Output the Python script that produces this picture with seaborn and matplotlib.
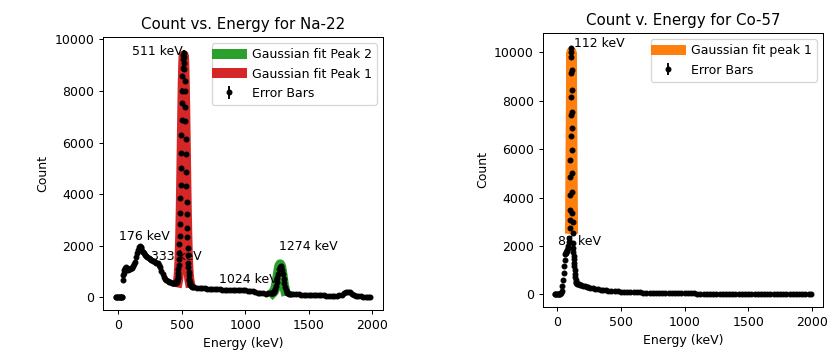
import matplotlib
matplotlib.use("Agg")
import matplotlib.pyplot as plt
import numpy as np
import seaborn as sns

# ---- Na-22 spectrum ----
na_energy = [
    -20, -14, -8, -2, 4, 10, 16, 22, 28, 33,
    36, 38, 42, 46, 52, 58, 64, 70, 78, 86, 94, 102, 110, 118, 126, 134, 142, 150,
    158, 164, 170, 176, 182, 190, 198, 206, 214, 222, 230, 240, 250, 260, 270, 280,
    290, 300, 310, 320, 330, 340, 350, 360, 370, 380, 390, 400, 410, 420, 430, 440,
    450, 456, 460, 464,
    466, 468, 470, 472, 474, 476, 478, 480, 482, 484, 486, 488, 490, 492, 494, 496,
    498, 500, 502, 504, 506, 508, 510, 512, 514, 516, 518, 520, 522, 524, 526, 528,
    530, 532, 534, 536, 538, 540, 542, 544, 546, 548, 550, 552, 554, 556, 558, 560,
    562, 564, 566, 568, 570,
    580, 590, 600, 620, 640, 660, 680, 700, 720, 740, 760, 780, 800, 820, 840, 860,
    880, 900, 920, 940, 960, 980, 1000, 1020, 1040, 1060, 1080, 1100, 1120, 1140,
    1160, 1180, 1200,
    1206, 1212, 1218, 1224, 1230, 1236, 1242, 1248, 1254, 1260, 1266, 1272, 1278,
    1284, 1290, 1296, 1302, 1308, 1314, 1320, 1326, 1332, 1338, 1344, 1350,
    1360, 1380, 1400, 1420, 1440, 1460, 1480, 1500, 1520, 1540, 1560, 1580, 1600,
    1620, 1640, 1660, 1680, 1700, 1720, 1740, 1760, 1780, 1795, 1810, 1825, 1840,
    1855, 1870, 1890, 1910, 1930, 1950, 1970, 1985,
]
na_count = [
    0, 0, 0, 0, 0, 0, 0, 0, 0, 0,
    680, 880, 950, 1050, 1120, 1080, 1160, 1100, 1050, 1080, 1100, 1120, 1150, 1200,
    1300, 1380, 1550, 1700, 1850, 1940, 1980, 1960, 1900, 1800, 1740, 1700, 1640,
    1600, 1560, 1520, 1480, 1440, 1410, 1390, 1380, 1350, 1320, 1260, 1160, 1020,
    900, 800, 720, 670, 630, 600, 580, 560, 550, 545, 545, 560, 600, 640,
    690, 750, 830, 950, 1090, 1240, 1490, 1720, 2060, 2390, 2850, 3270, 3860, 4370,
    5030, 5600, 6300, 6860, 7530, 8010, 8560, 8900, 9250, 9390, 9480, 9330, 9100,
    8860, 8400, 7980, 7360, 6830, 6130, 5560, 4870, 4320, 3700, 3230, 2700, 2330,
    1920, 1650, 1350, 1170, 970, 850, 720, 660, 580, 530, 500, 470, 450,
    420, 405, 392, 378, 362, 352, 345, 336, 330, 324, 318, 311, 305, 301, 297, 294,
    291, 288, 285, 282, 279, 275, 270, 262, 250, 228, 200, 176, 160, 150, 146, 150,
    165,
    155, 162, 176, 203, 250, 325, 433, 576, 746, 923, 1081, 1191, 1220, 1166, 1056,
    898, 721, 551, 408, 300, 225, 178, 151, 137, 130,
    126, 121, 116, 112, 109, 105, 100, 96, 92, 88, 84, 80, 76, 72, 68, 65, 62, 62,
    66, 80, 110, 165, 210, 225, 195, 145, 100, 68, 46, 36, 29, 24, 20, 18,
]

# Gaussian fits
na_fit1_energy = [468, 472, 476, 480, 484, 488, 492, 496, 500, 504, 508, 512, 516,
                  520, 524, 528, 532, 536, 540, 544, 548, 552, 556, 560, 564]
na_fit1_count = [579, 683, 871, 1188, 1684, 2405, 3370, 4554, 5878, 7198, 8334, 9106,
                 9380, 9106, 8334, 7198, 5878, 4554, 3370, 2405, 1684, 1188, 871, 683, 579]
na_fit2_energy = [1215, 1225, 1235, 1245, 1255, 1262, 1268, 1275, 1282, 1288, 1295,
                  1305, 1315]
na_fit2_count = [170, 220, 330, 540, 830, 1060, 1210, 1280, 1210, 1060, 830, 470, 260]

# ---- Co-57 spectrum ----
co_energy = [
    -20, -14, -8, -2, 4, 10, 16, 22, 28, 34, 40, 46, 52, 56, 60, 64, 68, 72, 76, 80,
    84, 88, 92, 96,
    99, 100, 101, 102, 103, 104, 105, 106, 107, 108, 109, 110, 111, 112, 113, 114,
    115, 116, 117, 118, 119, 120, 121,
    123, 125, 127, 129, 131, 133, 135, 137, 139, 141, 144, 147, 151, 155,
    160, 170, 180, 190, 200, 215, 230, 245, 260, 280, 300, 320, 340, 360, 380, 400,
    425, 450, 475, 500, 525, 550, 575, 600, 625, 650, 675, 700, 725, 750, 775, 800,
    825, 850, 875, 900, 925, 950, 975, 1000,
    1025, 1050, 1075, 1100, 1125, 1150, 1175, 1200, 1225, 1250, 1275, 1300, 1325,
    1350, 1375, 1400, 1425, 1450, 1475, 1500, 1525, 1550, 1575, 1600, 1625, 1650,
    1675, 1700, 1725, 1750, 1775, 1800, 1825, 1850, 1875, 1900, 1925, 1950, 1975, 1990,
]
co_count = [
    0, 0, 0, 0, 0, 0, 0, 0, 40, 150, 350, 600, 900, 1150, 1400, 1650, 1750, 1700,
    1780, 1850, 1900, 2000, 2150, 2310,
    2730, 3070, 3480, 4100, 4860, 5550, 6540, 7410, 8165, 9130, 9820, 10165, 10025,
    9270, 8440, 7545, 6860, 5960, 5000, 4240, 3370, 3000, 2520,
    2100, 1900, 1750, 1600, 1450, 1300, 1150, 1000, 850, 700, 580, 500, 460, 440,
    430, 410, 390, 370, 352, 330, 310, 290, 270, 250, 230, 210, 192, 176, 162, 150,
    138, 126, 116, 108, 101, 95, 89, 84, 79, 75, 70, 66, 62, 58, 55, 52,
    49, 47, 45, 43, 41, 39, 37, 35,
    34, 33, 33, 32, 31, 31, 30, 29, 29, 28, 27, 27, 26, 26, 25, 24, 24, 23, 23, 22,
    21, 21, 20, 20, 19, 19, 18, 18, 17, 17, 16, 16, 15, 15, 14, 14, 13, 13, 12, 12,
]
co_fit_energy = [100, 102, 104, 106, 108, 110, 112, 114, 116, 118, 120, 122, 124]
co_fit_count = [2710, 4040, 5600, 7230, 8670, 9670, 10025, 9670, 8670, 7230, 5600,
                4040, 2710]

# peak labels: (text, x, y)
na_labels = [("511 keV", 105, 9375), ("176 keV", 8, 2240), ("333 keV", 255, 1467),
             ("1024 keV", 795, 540), ("1274 keV", 1268, 1826)]
co_labels = [("112 keV", 128, 10220), ("85 keV", 5, 2037)]

fig = plt.figure(figsize=(837 / 90, 361 / 90), dpi=90)
ax1 = fig.add_axes([103 / 837, 1 - 310 / 361, 280 / 837, 273 / 361])
ax2 = fig.add_axes([542.5 / 837, 1 - 307 / 361, 280.5 / 837, 274 / 361])

# Na-22
sns.lineplot(x=na_fit2_energy, y=na_fit2_count, ax=ax1, color="tab:green", lw=8,
             label="Gaussian fit Peak 2")
sns.lineplot(x=na_fit1_energy, y=na_fit1_count, ax=ax1, color="tab:red", lw=8,
             label="Gaussian fit Peak 1")
na_c = np.array(na_count, dtype=float)
ax1.errorbar(na_energy, na_c, yerr=np.sqrt(na_c), fmt=".", ms=7.5, color="k",
             label="Error Bars")
for s, x, y in na_labels:
    ax1.text(x, y, s, fontsize=10)
ax1.set_title("Count vs. Energy for Na-22")
ax1.set_xlabel("Energy (keV)")
ax1.set_ylabel("Count")
ax1.set_xlim(-120, 2085)
ax1.set_ylim(-490, 10090)
ax1.legend(loc="upper right")

# Co-57
sns.lineplot(x=co_fit_energy, y=co_fit_count, ax=ax2, color="tab:orange", lw=8,
             label="Gaussian fit peak 1")
co_c = np.array(co_count, dtype=float)
ax2.errorbar(co_energy, co_c, yerr=np.sqrt(co_c), fmt=".", ms=7.5, color="k",
             label="Error Bars")
for s, x, y in co_labels:
    ax2.text(x, y, s, fontsize=10)
ax2.set_title("Count v. Energy for Co-57")
ax2.set_xlabel("Energy (keV)")
ax2.set_ylabel("Count")
ax2.set_xlim(-116, 2088)
ax2.set_ylim(-525, 10800)
ax2.set_yticks([0, 2000, 4000, 6000, 8000, 10000])
ax2.legend(loc="upper right")

fig.savefig("out.png", dpi=90)
